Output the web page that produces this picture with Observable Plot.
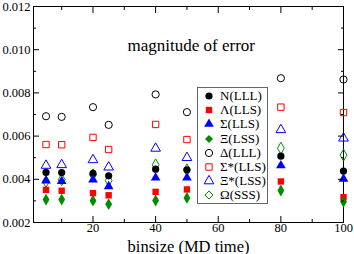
<!DOCTYPE html>
<html><head><meta charset="utf-8">
<script src="https://cdn.jsdelivr.net/npm/d3@7"></script>
<script src="https://cdn.jsdelivr.net/npm/@observablehq/plot@0.6"></script>
<style>
body{margin:0;background:#fff;}
#wrap{position:relative;width:354px;height:254px;font-family:"Liberation Serif","Times New Roman",serif;}
#legend{position:absolute;left:197px;top:87px;width:71px;height:117px;border:1px solid #666;box-sizing:border-box;background:#fff;padding-top:1px}
#legend .row{display:flex;align-items:center;height:14.2px;font-size:13px;line-height:14px;white-space:nowrap;}
#legend svg{width:22px;height:14px;margin-left:0px;flex:none}
</style></head>
<body><div id="wrap"><div id="legend"></div></div>
<script>
const binsize = [5, 10, 20, 25, 40, 50, 80, 100];
const seriesNames = ["N(LLL)", "Λ(LLS)", "Σ(LLS)", "Ξ(LSS)", "Δ(LLL)", "Σ*(LLS)", "Ξ*(LSS)", "Ω(SSS)"];
const N_LLL   = [0.00432, 0.00431, 0.00428, 0.00416, 0.00447, 0.00444, 0.00507, 0.00438];
const L_LLS   = [0.00351, 0.00347, 0.00336, 0.00326, 0.00342, 0.00353, 0.00390, 0.00317];
const S_LLS   = [0.00393, 0.00391, 0.00398, 0.00367, 0.00407, 0.00407, 0.00464, 0.00402];
const X_LSS   = [0.00306, 0.00306, 0.00301, 0.00285, 0.00302, 0.00314, 0.00348, 0.00296];
const D_LLL   = [0.00692, 0.00689, 0.00734, 0.00652, 0.00793, 0.00711, 0.00868, 0.00862];
const Ss_LLS  = [0.00561, 0.00560, 0.00594, 0.00538, 0.00654, 0.00584, 0.00734, 0.00709];
const Xs_LSS  = [0.00464, 0.00467, 0.00490, 0.00456, 0.00543, 0.00500, 0.00629, 0.00590];
const O_SSS   = [0.00390, 0.00398, 0.00421, 0.00394, 0.00467, 0.00444, 0.00544, 0.00512];
const xMajor = [20, 40, 60, 80, 100];
const xMinor = [10, 30, 50, 70, 90];
const yMajor = [0.002, 0.004, 0.006, 0.008, 0.010, 0.012];
const yMinor = [0.003, 0.005, 0.007, 0.009, 0.011];
const titleText = "magnitude of error";
const xLabel = "binsize (MD time)";

const seriesValues = [N_LLL, L_LLS, S_LLS, X_LSS, D_LLL, Ss_LLS, Xs_LSS, O_SSS];
const styles = [
  {symbol:"circle", color:"#000000", filled:true},
  {symbol:"square", color:"#ff0000", filled:true},
  {symbol:"triangle", color:"#0000ff", filled:true},
  {symbol:"diamond", color:"#008b00", filled:true},
  {symbol:"circle", color:"#000000", filled:false},
  {symbol:"square", color:"#ff0000", filled:false},
  {symbol:"triangle", color:"#0000ff", filled:false},
  {symbol:"diamond", color:"#008b00", filled:false}
];
const drawOrder = [4,5,6,7,0,1,2,3];

const font = "Liberation Serif, Times New Roman, serif";
const marks = [Plot.frame({stroke:"#000", strokeWidth:1})];
for (const i of drawOrder) {
  const st = styles[i];
  const data = binsize.map((b, j) => ({x: b, y: seriesValues[i][j]}));
  marks.push(Plot.dot(data, {
    x: "x", y: "y", symbol: () => st.symbol, r: 3.6,
    fill: st.filled ? st.color : "none",
    stroke: st.color, strokeWidth: st.filled ? 0 : 1
  }));
}
const noText = () => "";
marks.push(
  Plot.axisX({label: null, anchor:"bottom", ticks: xMajor, tickSize: 0, tickPadding: 1, tickFormat: d => String(d), fontSize: 12.5}),
  Plot.axisY({label: null, anchor:"left", ticks: yMajor, tickSize: 0, tickPadding: 3, tickFormat: d3.format(".3f"), fontSize: 12.5}),
  Plot.axisX({label: null, anchor:"bottom", ticks: xMajor, tickSize: -6, tickFormat: noText}),
  Plot.axisX({label: null, anchor:"bottom", ticks: xMinor, tickSize: -3, tickFormat: noText}),
  Plot.axisX({label: null, anchor:"top", ticks: xMajor, tickSize: -6, tickFormat: noText}),
  Plot.axisX({label: null, anchor:"top", ticks: xMinor, tickSize: -3, tickFormat: noText}),
  Plot.axisY({label: null, anchor:"left", ticks: yMajor, tickSize: -6, tickFormat: noText}),
  Plot.axisY({label: null, anchor:"left", ticks: yMinor, tickSize: -3, tickFormat: noText}),
  Plot.axisY({label: null, anchor:"right", ticks: yMajor, tickSize: -6, tickFormat: noText}),
  Plot.axisY({label: null, anchor:"right", ticks: yMinor, tickSize: -3, tickFormat: noText}),
  Plot.text([titleText], {frameAnchor:"top-left", text: d => d, dx: 94, dy: 32, fontSize: 17, fontFamily: font, textAnchor:"start", fill:"#000"}),
  Plot.text([xLabel], {frameAnchor:"bottom", text: d => d, dy: 29, lineAnchor: "bottom", fontSize: 16.5, fontFamily: font, fill:"#000"})
);

const chart = Plot.plot({
  width: 354, height: 254,
  marginLeft: 33, marginRight: 11, marginTop: 6, marginBottom: 32,
  x: {domain: [1, 100]},
  y: {domain: [0.002, 0.012]},
  style: {fontFamily: font, fontSize: "13px", color:"#000", background:"#fff", overflow:"visible"},
  marks
});
document.getElementById("wrap").prepend(chart);

const leg = document.getElementById("legend");
const symMap = {circle: d3.symbolCircle, square: d3.symbolSquare, triangle: d3.symbolTriangle, diamond: d3.symbolDiamond2};
seriesNames.forEach((name, i) => {
  const st = styles[i];
  const row = document.createElement("div"); row.className = "row";
  const area = Math.PI * 3.6 * 3.6;
  const path = d3.symbol(symMap[st.symbol], area)();
  row.innerHTML = `<svg viewBox="-11 -7 22 14"><path d="${path}" fill="${st.filled ? st.color : "none"}" stroke="${st.color}" stroke-width="${st.filled ? 0 : 1}"/></svg><span>${name}</span>`;
  leg.appendChild(row);
});
</script></body></html>
